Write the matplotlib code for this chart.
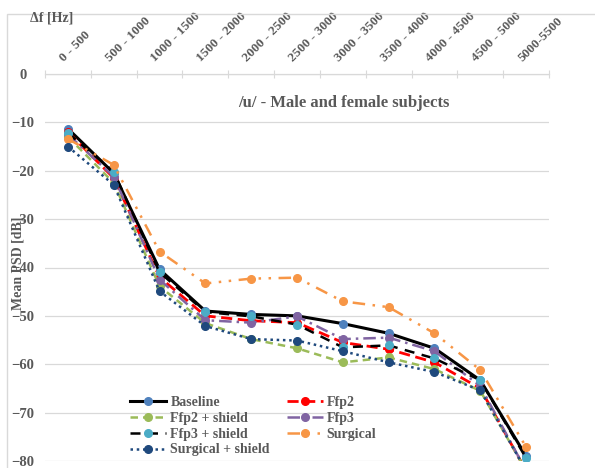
import matplotlib
matplotlib.use('Agg')
import matplotlib.pyplot as plt
import matplotlib.patches as patches
import matplotlib.transforms as mtransforms

plt.rcParams['font.family'] = ['Liberation Serif', 'DejaVu Serif']
plt.rcParams['font.weight'] = 'bold'

categories = ['0 - 500', '500 - 1000', '1000 - 1500', '1500 - 2000', '2000 - 2500',
              '2500 - 3000', '3000 - 3500', '3500 - 4000', '4000 - 4500',
              '4500 - 5000', '5000-5500']

baseline = [-11.3, -20.5, -40.4, -49.0, -49.7, -50.0, -51.6, -53.6, -56.7, -63.3, -79.0]
ffp2 = [-12.0, -21.5, -42.0, -50.0, -51.0, -51.4, -55.5, -56.9, -59.6, -65.0, -82.0]
ffp2_shield = [-13.0, -22.5, -43.9, -51.5, -54.8, -56.7, -59.6, -58.6, -61.0, -65.5, -82.0]
ffp3 = [-12.5, -21.2, -42.5, -50.9, -51.4, -50.1, -54.8, -54.5, -57.3, -64.5, -82.0]
ffp3_shield = [-12.2, -20.2, -41.0, -49.2, -50.1, -51.8, -56.5, -56.1, -58.8, -63.3, -79.4]
surgical = [-13.4, -18.8, -36.7, -43.3, -42.3, -42.1, -47.0, -48.2, -53.6, -61.2, -77.1]
surgical_shield = [-15.0, -22.9, -44.9, -52.1, -54.8, -55.1, -57.3, -59.6, -61.6, -65.4, -82.0]

gray = '#595959'
x = list(range(len(categories)))

fig = plt.figure(figsize=(5.95, 4.68), dpi=100)
ax = fig.add_axes([45 / 595, 7 / 468, 504 / 595, 387 / 468])

# label, data, line colour, marker colour, dash, width
series = [
    ('Baseline', baseline, 'black', '#4F81BD', '-', 2.2),
    ('Ffp2', ffp2, '#FF0000', '#FF0000', (0, (4, 2)), 2.0),
    ('Ffp2 + shield', ffp2_shield, '#9BBB59', '#9BBB59', (0, (3, 2)), 1.8),
    ('Ffp3', ffp3, '#8064A2', '#8064A2', (0, (5, 2, 1, 2)), 1.8),
    ('Ffp3 + shield', ffp3_shield, 'black', '#4BACC6', (0, (4, 3)), 1.8),
    ('Surgical', surgical, '#F79646', '#F79646', (0, (5, 3, 1, 3, 1, 3)), 1.8),
    ('Surgical + shield', surgical_shield, '#1F497D', '#1F497D', (0, (1, 1.5)), 1.8),
]

handles = {}
for label, data, lc, mc, ls, lw in series:
    h, = ax.plot(x, data, color=lc, linestyle=ls, linewidth=lw, marker='o',
                 markersize=5.5, markerfacecolor=mc, markeredgecolor=mc, label=label)
    handles[label] = h

ax.set_xlim(-0.5, len(categories) - 0.5)
ax.set_ylim(-80, 0)
ax.set_yticks(range(-80, 1, 10))
ax.grid(axis='y', color='#D9D9D9', linewidth=0.9)
ax.set_axisbelow(True)
for s in ['left', 'right', 'bottom']:
    ax.spines[s].set_visible(False)
ax.spines['top'].set_color('#D9D9D9')
ax.spines['top'].set_linewidth(0.9)

# category labels along the top, tick marks between the categories
ax.xaxis.tick_top()
ax.set_xticks([i - 0.5 for i in range(len(categories) + 1)])
ax.set_xticklabels([])
ax.set_xticks(x, minor=True)
ax.set_xticklabels(categories, minor=True, rotation=45, ha='left', va='bottom',
                   rotation_mode='anchor', fontsize=9.5, color=gray)
ax.tick_params(axis='x', which='major', direction='inout', length=6, color='#D9D9D9')
ax.tick_params(axis='x', which='minor', length=0, pad=7)
off = mtransforms.ScaledTranslation(-2 / 100, 0, fig.dpi_scale_trans)
for t in ax.get_xticklabels(minor=True):
    t.set_transform(t.get_transform() + off)

ax.tick_params(axis='y', length=0, pad=16, labelsize=10.5, labelcolor=gray)
for t in ax.get_yticklabels():
    t.set_ha('center')

ax.set_ylabel('Mean PSD [dB]', fontsize=10, color=gray, fontweight='bold')
ax.yaxis.set_label_coords(-0.04, 0.51)

ax.text(0.592, 0.925, '/u/ - Male and female subjects', transform=ax.transAxes,
        ha='center', va='center', fontsize=12, color=gray)
fig.text(30 / 595, 1 - 18 / 468, 'Δf [Hz]', ha='left', va='center', fontsize=10, color=gray)

order = ['Baseline', 'Ffp2 + shield', 'Ffp3 + shield', 'Surgical + shield',
         'Ffp2', 'Ffp3', 'Surgical']
leg = ax.legend([handles[k] for k in order], order, ncol=2, loc='lower left',
                bbox_to_anchor=(0.155, -0.006), frameon=False, fontsize=10,
                labelspacing=0.2, handlelength=2.6, handletextpad=0.3,
                columnspacing=1.2, borderpad=0)
for t in leg.get_texts():
    t.set_color(gray)

fig.add_artist(patches.Rectangle((7 / 595, -0.02), 1.0, 1.005 - 7 / 468,
                                 transform=fig.transFigure, fill=False,
                                 edgecolor='#D9D9D9', linewidth=1))

fig.savefig('out.png', dpi=100)
